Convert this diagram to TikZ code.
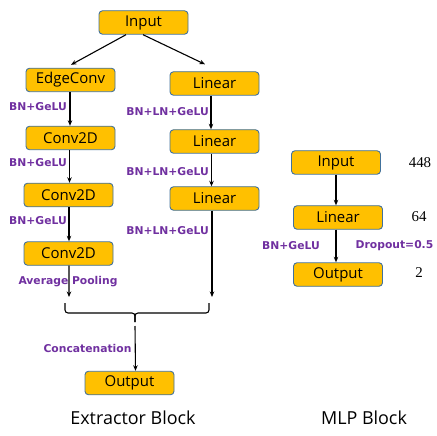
\documentclass[tikz,border=0pt]{standalone}
\usepackage{fontspec}
\setmainfont{Open Sans}
\newfontfamily\lblfont{DejaVu Sans}
\newfontfamily\numfont{Liberation Serif}
\usetikzlibrary{arrows.meta,calc}
\definecolor{boxfill}{HTML}{FFC000}
\definecolor{boxline}{HTML}{41719C}
\definecolor{lblpurple}{HTML}{7030A0}
\tikzset{
  blk/.style={draw=boxline, line width=0.9bp, fill=boxfill, rounded corners=3.5bp,
    minimum width=89bp, minimum height=23.5bp, inner sep=0pt,
    font=\fontsize{15}{17}\selectfont},
  lbl/.style={text=lblpurple, inner sep=0pt, font=\lblfont\bfseries\fontsize{10.8}{12}\selectfont},
  num/.style={inner sep=0pt, font=\numfont\fontsize{15}{17}\selectfont},
  ttl/.style={inner sep=0pt, font=\fontsize{18}{20}\selectfont},
  arr/.style={line width=1.1bp, -{Stealth[length=5.5bp,width=4.5bp]}},
  ln/.style={line width=1.1bp}
}
\begin{document}
\begin{tikzpicture}[x=1bp,y=-1bp]
\useasboundingbox (0,0) rectangle (436,436);
% extractor nodes
\node[blk] (in) at (143.5,22.5) {Input};
\node[blk] (ec) at (70.5,80) {EdgeConv};
\node[blk] (l1) at (214.5,83.5) {Linear};
\node[blk] (c1) at (70.5,138) {Conv2D};
\node[blk] (l2) at (214.5,141.5) {Linear};
\node[blk] (c2) at (68.5,195) {Conv2D};
\node[blk] (l3) at (214.5,198.5) {Linear};
\node[blk] (c3) at (68.5,253.5) {Conv2D};
\node[blk] (out) at (129.5,383) {Output};
% MLP nodes
\node[blk] (mi) at (336,162.5) {Input};
\node[blk] (ml) at (338,217.5) {Linear};
\node[blk] (mo) at (338,274.5) {Output};
% coordinates
\coordinate (ca) at (69,297);
\coordinate (cb) at (212,297);
\coordinate (bl) at (65,303);
\coordinate (br) at (209,303);
\coordinate (bm) at (135,322);
\coordinate (cs) at (135,326);
% arrows
\draw[arr] ($(in.south)+(-17.5,0)$) -- ($(ec.north)+(0.5,-3)$);
\draw[arr] ($(in.south)+(-0.5,0)$) -- ($(l1.north)+(-9.5,-7)$);
\draw[arr] ($(ec.south)+(-0.5,0)$) -- ($(c1.north)+(-0.5,0)$);
\draw[arr] ($(c1.south)+(-1,0)$) -- ($(c2.north)+(1,0)$);
\draw[arr] ($(c2.south)+(0.5,0)$) -- ($(c3.north)+(0.5,0)$);
\draw[arr] ($(l1.south)+(-3.5,0)$) -- ($(l2.north)+(-3.5,0)$);
\draw[arr] ($(l2.south)+(-3,0)$) -- ($(l3.north)+(-3,0)$);
\draw[arr] ($(c3.south)+(0.5,0)$) -- (ca);
\draw[arr] ($(l3.south)+(-2.5,0)$) -- (cb);
\draw[ln, rounded corners=3bp] (bl) -- (bl |- 0,313) -- (bm |- 0,313) -- (bm);
\draw[ln, rounded corners=3bp] (br) -- (br |- 0,313) -- (bm |- 0,313) -- (bm);
\draw[arr] (cs) -- ($(out.north)+(6,0)$);
\draw[arr] (mi.south) -- (ml.north -| mi.south);
\draw[arr] ($(ml.south)+(-2,0)$) -- ($(mo.north)+(-2,0)$);
% labels
\node[lbl, anchor=east] (t1) at (67,107) {BN+GeLU};
\node[lbl, anchor=east] (t2) at (67,163) {BN+GeLU};
\node[lbl, anchor=east] (t3) at (67,221) {BN+GeLU};
\node[lbl, anchor=east] (u1) at (209,112) {BN+LN+GeLU};
\node[lbl, anchor=east] (u2) at (209,172) {BN+LN+GeLU};
\node[lbl, anchor=east] (u3) at (209,231) {BN+LN+GeLU};
\node[lbl] (ap) at (68,282) {Average Pooling};
\node[lbl] (cc) at (87.5,348) {Concatenation};
\node[lbl] (mb) at (291,246) {BN+GeLU};
\node[lbl] (dr) at (394.5,246) {Dropout=0.5};
% numbers
\node[num] (n1) at (420,163) {448};
\node[num] (n2) at (419,217) {64};
\node[num] (n3) at (419,273) {2};
% titles
\node[ttl] (te) at (133,418) {Extractor Block};
\node[ttl] (tm) at (364,418) {MLP Block};
\end{tikzpicture}
\end{document}
